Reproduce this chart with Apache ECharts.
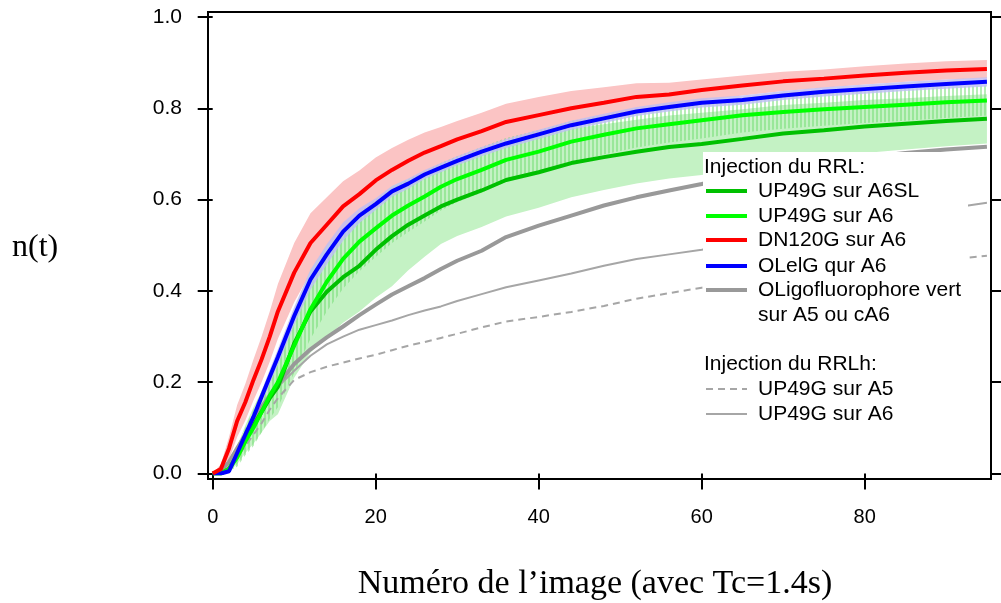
<!DOCTYPE html>
<html>
<head>
<meta charset="utf-8">
<script src="https://cdn.jsdelivr.net/npm/echarts@6/dist/echarts.min.js"></script>
<style>html,body{margin:0;padding:0;background:#fff}#c{width:1001px;height:603px}</style>
</head>
<body>
<div id="c"></div>
<script>
// ---- data (image number, n(t)) ----
const imageNo = [0,1,2,3,4,5,6,7,8,10,12,14,16,18,20,22,24,26,28,30,33,36,40,44,48,52,56,60,65,70,75,80,85,90,95];
const up49gA6SL = [0,0,0.01,0.04,0.075,0.105,0.135,0.165,0.19,0.285,0.355,0.398,0.43,0.455,0.49,0.52,0.545,0.565,0.585,0.6,0.62,0.643,0.66,0.68,0.693,0.705,0.715,0.722,0.733,0.745,0.752,0.76,0.766,0.772,0.777];
const up49gA6SLErr = [0,0,0.005,0.02,0.03,0.04,0.045,0.05,0.06,0.075,0.09,0.1,0.1,0.1,0.105,0.11,0.1,0.09,0.082,0.08,0.08,0.08,0.078,0.075,0.072,0.07,0.069,0.068,0.065,0.062,0.06,0.058,0.056,0.055,0.054];
const up49gA6 = [0,0,0.01,0.035,0.07,0.10,0.135,0.17,0.20,0.28,0.36,0.42,0.47,0.508,0.537,0.565,0.587,0.607,0.628,0.645,0.665,0.687,0.705,0.727,0.742,0.756,0.765,0.774,0.785,0.792,0.798,0.803,0.808,0.813,0.817];
const up49gA6Err = [0,0,0.005,0.02,0.03,0.04,0.045,0.05,0.055,0.06,0.065,0.065,0.065,0.065,0.063,0.06,0.058,0.055,0.052,0.05,0.05,0.048,0.047,0.045,0.043,0.042,0.04,0.04,0.038,0.037,0.036,0.035,0.035,0.034,0.033];
const dn120gA6 = [0,0.01,0.055,0.115,0.156,0.205,0.25,0.30,0.355,0.44,0.505,0.545,0.585,0.612,0.642,0.665,0.685,0.703,0.717,0.732,0.75,0.77,0.785,0.80,0.812,0.825,0.83,0.84,0.85,0.859,0.865,0.872,0.878,0.883,0.886];
const dn120gA6Err = [0,0.01,0.025,0.035,0.04,0.045,0.05,0.055,0.06,0.065,0.065,0.06,0.055,0.052,0.05,0.048,0.046,0.044,0.042,0.04,0.04,0.04,0.04,0.038,0.034,0.03,0.026,0.023,0.022,0.021,0.02,0.02,0.02,0.02,0.02];
const olelgA6 = [0,0,0.005,0.045,0.085,0.124,0.168,0.212,0.255,0.345,0.425,0.48,0.53,0.565,0.59,0.618,0.635,0.655,0.67,0.685,0.705,0.723,0.743,0.763,0.778,0.793,0.803,0.812,0.818,0.828,0.836,0.842,0.848,0.853,0.858];
const olelgA6Err = [0,0,0.004,0.008,0.01,0.012,0.014,0.016,0.018,0.02,0.022,0.022,0.02,0.016,0.013,0.012,0.011,0.01,0.01,0.01,0.01,0.01,0.01,0.01,0.01,0.01,0.01,0.01,0.01,0.01,0.01,0.01,0.01,0.01,0.01];
const oligoVert = [0,0.005,0.025,0.055,0.085,0.115,0.145,0.172,0.195,0.24,0.272,0.298,0.322,0.347,0.37,0.392,0.41,0.428,0.448,0.466,0.488,0.518,0.543,0.565,0.587,0.605,0.62,0.634,0.652,0.668,0.681,0.692,0.702,0.71,0.716];
const rrlhA5 = [0,0,0.015,0.035,0.06,0.085,0.11,0.14,0.165,0.205,0.222,0.234,0.243,0.252,0.26,0.27,0.28,0.288,0.297,0.306,0.32,0.333,0.343,0.354,0.367,0.383,0.395,0.407,0.42,0.43,0.44,0.45,0.46,0.468,0.477];
const rrlhA6 = [0,0.005,0.025,0.05,0.08,0.11,0.14,0.165,0.19,0.225,0.258,0.283,0.3,0.315,0.325,0.335,0.347,0.357,0.366,0.378,0.393,0.408,0.423,0.438,0.455,0.47,0.48,0.49,0.505,0.52,0.535,0.55,0.565,0.58,0.593];
const yTicks = [0, 0.2, 0.4, 0.6, 0.8, 1.0];
const xTicks = [0, 20, 40, 60, 80];

// ---- helpers ----
const pair = (vals) => imageNo.map((x, i) => [x, vals[i]]);
// error band drawn as one polygon through the axes' scales (api.coord)
function band(vals, errs, fill, z) {
  const data = imageNo.map((x, i) => [x, Math.max(0, vals[i] - errs[i]), vals[i] + errs[i]]);
  return {
    type:'custom', xAxisIndex:1, yAxisIndex:1, data, silent:true, z, clip:true,
    encode:{x:0, y:[1,2]},
    renderItem(params, api) {
      if (params.dataIndex !== 0) return null;
      const n = params.dataInsideLength;
      const top = [], bot = [];
      for (let i = 0; i < n; i++) {
        const x = api.value(0, i);
        bot.push(api.coord([x, api.value(1, i)]));
        top.push(api.coord([x, api.value(2, i)]));
      }
      return {type:'polygon', shape:{points: bot.concat(top.reverse())}, style:{fill, stroke:null}};
    }
  };
}
function line(name, vals, color, width, type, z) {
  return {name, type:'line', xAxisIndex:1, yAxisIndex:1, data:pair(vals), symbol:'none',
    lineStyle:{color, width, type}, z:z, silent:true};
}
// vertical stripe hatch pattern
const cv = document.createElement('canvas');
cv.width = 4; cv.height = 4;
const cx = cv.getContext('2d');
cx.fillStyle = 'rgba(110,220,110,0.5)';
cx.fillRect(0, 0, 2, 4);
const hatch = {image: cv, repeat: 'repeat'};

const C = {dkgreen:'#00c000', green:'#00ff00', red:'#ff0000', blue:'#0000ff', gray:'#999999', lgray:'#a6a6a6'};

const series = [
  band(dn120gA6, dn120gA6Err, '#fbc4c4', 1),
  band(up49gA6SL, up49gA6SLErr, '#c4f2c4', 2),
  band(up49gA6, up49gA6Err, hatch, 3),
  band(olelgA6, olelgA6Err, 'rgba(190,190,245,0.8)', 4),
  line('UP49G sur A5', rrlhA5, C.lgray, 2, [7,5], 10),
  line('UP49G sur A6 (RRLh)', rrlhA6, C.lgray, 2, 'solid', 10),
  line('OLigofluorophore vert sur A5 ou cA6', oligoVert, C.gray, 4, 'solid', 11),
  line('UP49G sur A6SL', up49gA6SL, C.dkgreen, 4, 'solid', 12),
  line('UP49G sur A6', up49gA6, C.green, 4, 'solid', 12),
  line('OLelG qur A6', olelgA6, C.blue, 4, 'solid', 13),
  line('DN120G sur A6', dn120gA6, C.red, 4, 'solid', 14)
];

// ---- legend drawn as graphic ----
const SANS = '"Liberation Sans", Arial, sans-serif';
const SERIF = '"Liberation Serif", "Times New Roman", serif';
const LF = '21px ' + SANS;
const legendRows = [
  {t:'Injection du RRL:', y:167},
  {t:'UP49G sur A6SL', y:191, c:C.dkgreen, w:4},
  {t:'UP49G sur A6', y:216, c:C.green, w:4},
  {t:'DN120G sur A6', y:240, c:C.red, w:4},
  {t:'OLelG qur A6', y:266, c:C.blue, w:4},
  {t:'OLigofluorophore vert', y:290, c:C.gray, w:4},
  {t:'sur A5 ou cA6', y:315},
  {t:'Injection du RRLh:', y:364},
  {t:'UP49G sur A5', y:389, c:C.lgray, w:2, d:[7,5]},
  {t:'UP49G sur A6', y:414, c:C.lgray, w:2}
];
const graphic = [{type:'rect', z:100, shape:{x:703, y:152, width:265, height:278}, style:{fill:'#fff'}}];
legendRows.forEach(r => {
  const isTitle = r.t.startsWith('Injection');
  graphic.push({type:'text', z:101, x: isTitle ? 704 : 758, y:r.y,
    style:{text:r.t, font:LF, fill:'#000', verticalAlign:'middle'}});
  if (r.c) graphic.push({type:'line', z:101, shape:{x1:706, y1:r.y, x2:747, y2:r.y},
    style:{stroke:r.c, lineWidth:r.w, lineDash:r.d || null}});
});
graphic.push({type:'text', z:101, x:12, y:248,
  style:{text:'n(t)', font:'32px ' + SERIF, fill:'#000', verticalAlign:'middle'}});
graphic.push({type:'text', z:101, x:595, y:584,
  style:{text:'Numéro de l\u2019image (avec Tc=1.4s)', font:'34px ' + SERIF, fill:'#000', align:'center', verticalAlign:'middle'}});

const tick = (len) => ({show:true, length:len, lineStyle:{color:'#000', width:2}});
const option = {
  animation:false,
  backgroundColor:'#fff',
  grid:[
    {left:208, top:12, right:10, bottom:124, show:true, borderColor:'#000', borderWidth:2, backgroundColor:'transparent', containLabel:false},
    {left:212.7, top:17, right:10, bottom:129.5, containLabel:false}
  ],
  xAxis:[
    {gridIndex:0, type:'value', show:false, min:0, max:1},
    {gridIndex:1, type:'value', min:xTicks[0], max:95.5, interval:20, offset:5.5,
     axisLine:{show:false}, axisTick:Object.assign(tick(16), {customValues:xTicks}),
     splitLine:{show:false},
     axisLabel:{color:'#000', fontSize:20, fontFamily:SANS, margin:28, customValues:xTicks, showMaxLabel:true, showMinLabel:true},
     axisPointer:{show:false}}
  ],
  yAxis:[
    {gridIndex:0, type:'value', show:false, min:0, max:1},
    {gridIndex:1, type:'value', position:'left', min:yTicks[0], max:yTicks[yTicks.length-1], interval:0.2, offset:4.7,
     axisLine:{show:false}, axisTick:tick(15),
     splitLine:{show:false},
     axisLabel:{color:'#000', fontSize:21, fontFamily:SANS, margin:26, formatter:(v)=>v.toFixed(1)}},
    {gridIndex:1, type:'value', position:'right', min:yTicks[0], max:yTicks[yTicks.length-1], interval:0.2, offset:0,
     axisLine:{show:false}, axisTick:tick(10),
     splitLine:{show:false}, axisLabel:{show:false}}
  ],
  series: series,
  graphic: graphic
};
echarts.init(document.getElementById('c'), null, {renderer:'canvas'}).setOption(option);
</script>
</body>
</html>
